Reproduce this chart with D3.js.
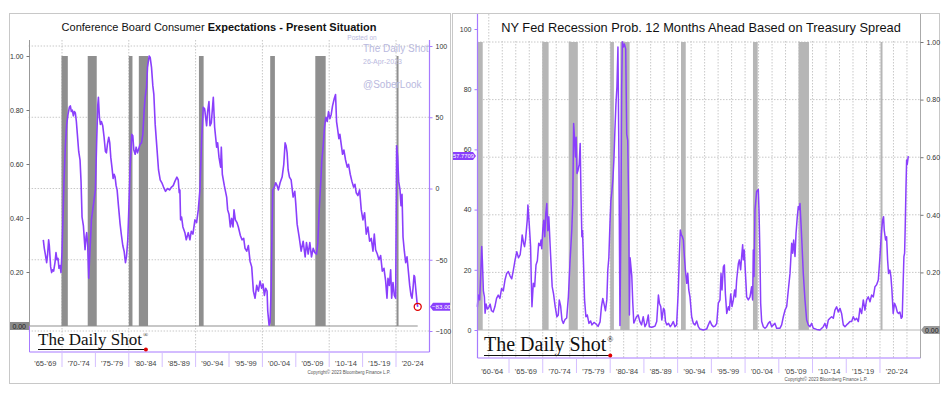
<!DOCTYPE html>
<html>
<head>
<meta charset="utf-8">
<script src="https://cdn.jsdelivr.net/npm/d3@7/dist/d3.min.js"></script>
<style>
  body { margin: 0; background: #fff; }
  svg { display: block; font-family: "Liberation Sans", Arial, sans-serif; }
</style>
</head>
<body>
<div id="chart"></div>
<script>
// NBER recessions [start, end] in decimal years
var recessions = [
  [1960.25, 1961.1], [1969.92, 1970.87], [1973.85, 1975.2], [1980.0, 1980.55],
  [1981.5, 1982.88], [1990.5, 1991.2], [2001.17, 2001.87], [2007.92, 2009.47], [2020.08, 2020.3]
];

// Conference Board: expectations minus present situation (right axis)
var confBoardSpread = [
  [1967.2,-36],[1967.35,-42],[1967.5,-46],[1967.7,-52],[1967.85,-46],[1968.0,-36],[1968.1,-40],[1968.3,-55],
  [1968.45,-59],[1968.6,-57],[1968.75,-58],[1968.95,-52],[1969.1,-45],[1969.25,-50],[1969.4,-49],[1969.55,-56],
  [1969.7,-54],[1969.85,-59],[1970.0,-45],[1970.15,-20],[1970.3,5],[1970.5,30],[1970.7,45],[1970.9,52],
  [1971.1,57],[1971.25,58],[1971.4,54],[1971.55,55],[1971.7,51],[1971.85,54],[1972.0,53],[1972.15,47],
  [1972.3,38],[1972.5,26],[1972.7,20],[1972.85,5],[1973.0,-20],[1973.2,-26],[1973.45,-43],[1973.6,-34],
  [1973.7,-31],[1973.85,-40],[1974.0,-63],[1974.15,-47],[1974.3,-33],[1974.4,-22],[1974.6,-15],[1974.8,-8],
  [1975.0,-1],[1975.2,35],[1975.35,58],[1975.45,64],[1975.6,50],[1975.75,45],[1975.9,47],[1976.1,44],
  [1976.3,36],[1976.5,26],[1976.65,25],[1976.8,31],[1977.0,36],[1977.15,32],[1977.3,22],[1977.5,14],
  [1977.65,7],[1977.8,10],[1977.95,8],[1978.1,2],[1978.25,-1],[1978.45,-12],[1978.7,-25],[1978.9,-33],
  [1979.1,-40],[1979.3,-44],[1979.5,-52],[1979.65,-48],[1979.85,-36],[1980.0,-15],[1980.2,15],[1980.45,38],
  [1980.6,37],[1980.75,27],[1980.95,24],[1981.1,29],[1981.3,25],[1981.5,28],[1981.7,31],[1981.9,32],
  [1982.1,38],[1982.3,55],[1982.45,64],[1982.65,71],[1982.8,85],[1983.05,93],[1983.2,92],[1983.4,85],
  [1983.6,72],[1983.75,66],[1983.95,45],[1984.2,29],[1984.45,13],[1984.7,6],[1984.95,4],[1985.2,1],
  [1985.5,-2],[1985.8,0],[1986.1,-1],[1986.4,1],[1986.65,2],[1986.9,5],[1987.2,8],[1987.4,6],
  [1987.55,-3],[1987.65,-1],[1987.75,-22],[1987.9,-20],[1988.1,-27],[1988.4,-31],[1988.6,-36],[1988.9,-31],
  [1989.15,-36],[1989.35,-30],[1989.6,-32],[1989.9,-22],[1990.15,-24],[1990.4,-15],[1990.65,-1],[1990.9,34],
  [1991.15,57],[1991.35,56],[1991.65,44],[1991.8,54],[1992.0,61],[1992.15,44],[1992.35,46],[1992.65,64],
  [1992.85,43],[1993.15,29],[1993.3,32],[1993.5,22],[1993.75,15],[1993.85,29],[1994.0,10],[1994.3,2],
  [1994.65,-6],[1994.8,-15],[1995.0,-18],[1995.2,-27],[1995.4,-21],[1995.6,-27],[1995.75,-15],[1995.95,-22],
  [1996.2,-24],[1996.4,-27],[1996.7,-33],[1996.95,-36],[1997.2,-35],[1997.4,-42],[1997.65,-44],[1997.9,-40],
  [1998.15,-51],[1998.4,-55],[1998.65,-72],[1998.9,-77],[1999.15,-68],[1999.4,-72],[1999.65,-65],[1999.9,-70],
  [2000.1,-67],[2000.3,-75],[2000.5,-70],[2000.7,-72],[2000.8,-86],[2001.0,-96],[2001.15,-94],[2001.3,-72],
  [2001.45,-27],[2001.55,-1],[2001.8,1],[2002.0,4],[2002.2,2],[2002.4,-1],[2002.65,4],[2002.95,8],
  [2003.2,17],[2003.4,32],[2003.55,30],[2003.7,25],[2003.85,13],[2004.05,8],[2004.3,6],[2004.6,-6],
  [2004.85,-2],[2005.0,-11],[2005.2,-25],[2005.5,-34],[2005.8,-44],[2006.1,-37],[2006.4,-48],[2006.6,-38],
  [2006.85,-46],[2007.1,-38],[2007.35,-48],[2007.6,-42],[2007.85,-45],[2008.1,-46],[2008.3,-38],[2008.5,-15],
  [2008.7,1],[2008.9,20],[2009.1,30],[2009.3,43],[2009.5,50],[2009.7,47],[2009.9,54],[2010.1,49],
  [2010.3,52],[2010.5,58],[2010.75,63],[2010.95,66],[2011.1,47],[2011.25,42],[2011.45,35],[2011.6,38],
  [2011.8,31],[2012.0,24],[2012.2,27],[2012.45,20],[2012.7,15],[2012.9,17],[2013.15,10],[2013.4,5],
  [2013.65,1],[2013.85,3],[2014.05,-3],[2014.3,-5],[2014.55,-1],[2014.8,-15],[2015.05,-22],[2015.3,-17],
  [2015.55,-32],[2015.8,-27],[2016.05,-37],[2016.3,-35],[2016.55,-44],[2016.75,-32],[2016.95,-43],[2017.2,-46],
  [2017.45,-50],[2017.7,-47],[2017.95,-58],[2018.2,-56],[2018.45,-65],[2018.65,-77],[2018.8,-63],[2019.0,-68],
  [2019.2,-57],[2019.35,-77],[2019.55,-66],[2019.75,-75],[2019.95,-77],[2020.1,30],[2020.25,22],[2020.4,5],
  [2020.6,-1],[2020.75,-12],[2020.9,-4],[2021.05,-34],[2021.25,-44],[2021.45,-52],[2021.65,-48],[2021.85,-58],
  [2022.05,-68],[2022.25,-75],[2022.4,-77],[2022.55,-70],[2022.7,-61],[2022.8,-62],[2022.95,-70],[2023.05,-75],
  [2023.15,-80],[2023.25,-83]
];

// NY Fed recession probability 12 months ahead (%)
var nyFedProb = [
  [1960.3,7.7],[1960.45,11.6],[1960.65,10],[1960.8,18],[1960.95,27.7],[1961.05,23],[1961.2,13],[1961.35,11],
  [1961.45,5.6],[1961.6,8.6],[1961.8,7],[1962.0,7.5],[1962.2,8.6],[1962.4,6.4],[1962.65,6],[1962.9,7.7],
  [1963.15,10.5],[1963.4,11.6],[1963.65,10.5],[1963.9,13.8],[1964.15,13],[1964.4,16.6],[1964.65,18.8],[1964.9,19.4],
  [1965.15,18],[1965.4,17],[1965.65,20],[1965.9,23.3],[1966.15,26],[1966.4,24],[1966.65,25],[1966.85,28.8],
  [1966.95,31.6],[1967.15,29],[1967.3,27.7],[1967.45,30],[1967.7,36.5],[1967.8,41.5],[1968.0,35],[1968.2,27.7],
  [1968.3,16.6],[1968.4,7.7],[1968.6,15.5],[1968.8,14.4],[1969.0,21.6],[1969.2,23],[1969.4,28.8],[1969.6,28],
  [1969.75,29.9],[1969.85,27],[1970.0,33],[1970.15,36.5],[1970.3,31],[1970.45,38.7],[1970.6,42],[1970.75,33],
  [1970.9,37.6],[1971.1,28],[1971.25,21],[1971.4,14.4],[1971.6,12],[1971.85,7.7],[1972.1,4.4],[1972.3,5],
  [1972.45,10],[1972.65,8],[1972.85,3.3],[1973.05,2.2],[1973.3,3.5],[1973.55,4],[1973.8,11],[1974.05,23],
  [1974.3,33],[1974.45,42],[1974.58,68.6],[1974.73,63],[1974.85,57.5],[1974.95,64],[1975.08,52],[1975.23,53],
  [1975.4,55],[1975.55,62],[1975.67,45],[1975.8,31],[1975.9,33],[1976.0,25.5],[1976.2,10],[1976.4,4.4],
  [1976.6,5],[1976.85,2.2],[1977.1,3],[1977.3,1.7],[1977.6,2.5],[1977.9,2],[1978.2,1.2],[1978.5,2.7],
  [1978.7,7.7],[1978.9,10.5],[1979.1,8.5],[1979.3,6.4],[1979.5,10],[1979.65,20],[1979.8,24],[1979.97,35.5],
  [1980.1,43],[1980.25,46],[1980.4,50],[1980.55,56.5],[1980.7,66.4],[1980.85,75],[1981.0,80.8],[1981.15,94],
  [1981.3,56],[1981.45,1.5],[1981.6,40],[1981.7,80],[1981.8,95.8],[1981.95,94],[1982.1,95],[1982.3,93.4],
  [1982.45,65],[1982.6,63],[1982.75,40],[1982.85,5],[1982.95,24],[1983.2,18],[1983.35,9],[1983.5,2.3],
  [1983.7,3.3],[1983.9,4.4],[1984.15,5],[1984.4,2.8],[1984.65,1.7],[1984.9,4.4],[1985.15,1.1],[1985.4,2.2],
  [1985.65,5],[1985.8,1.1],[1986.15,0.9],[1986.4,1.1],[1986.65,1.3],[1986.9,2.8],[1987.15,11.6],[1987.3,8.9],
  [1987.5,7.8],[1987.65,3.3],[1987.9,7.2],[1988.05,6.6],[1988.2,2.8],[1988.4,1.7],[1988.65,2.2],[1988.9,1.1],
  [1989.1,1.7],[1989.35,2.8],[1989.6,1.1],[1989.85,1.7],[1990.1,13.3],[1990.25,24.4],[1990.4,33.2],[1990.55,31.6],
  [1990.7,31],[1990.85,29.9],[1991.0,24.4],[1991.15,19.9],[1991.35,15.5],[1991.5,18.8],[1991.65,13.3],[1991.83,11],
  [1992.08,4.4],[1992.33,2.2],[1992.57,1.7],[1992.82,3],[1993.07,1.1],[1993.3,0.3],[1993.8,0],[1994.3,0.3],
  [1994.55,1.7],[1994.8,3],[1995.05,1.7],[1995.3,1.1],[1995.55,1.3],[1995.8,2.2],[1996.03,8.9],[1996.28,10],
  [1996.43,18.8],[1996.58,13.3],[1996.78,21],[1996.93,21.6],[1997.08,12],[1997.28,5.5],[1997.52,7.7],[1997.67,6.6],
  [1997.87,12],[1998.06,7.8],[1998.26,10],[1998.46,13.3],[1998.6,11],[1998.75,16.6],[1999.0,22],[1999.15,23.3],
  [1999.34,20],[1999.49,24.4],[1999.64,28.3],[1999.74,23.3],[1999.88,26.6],[2000.03,19.9],[2000.23,11],[2000.48,10],
  [2000.73,11],[2000.97,14.4],[2001.12,10],[2001.22,26.6],[2001.32,17.8],[2001.47,40],[2001.71,46],[2001.96,46.7],
  [2002.06,40],[2002.21,24.4],[2002.31,8.9],[2002.46,2.8],[2002.7,1.1],[2002.95,0.6],[2003.2,1.1],[2003.44,2.2],
  [2003.69,2.8],[2003.94,1.1],[2004.19,1.7],[2004.43,2.2],[2004.68,0.6],[2005.18,0.6],[2005.42,1.7],[2005.67,4.4],
  [2005.92,6.6],[2006.17,7.8],[2006.41,13.3],[2006.66,18.8],[2006.91,28.8],[2007.06,25.5],[2007.2,29.9],[2007.4,24.4],
  [2007.55,32],[2007.74,37.6],[2007.89,41],[2008.04,40],[2008.14,42],[2008.29,35.4],[2008.43,28.8],[2008.63,18.8],
  [2008.88,10],[2009.13,3.3],[2009.37,1.7],[2009.62,1.1],[2009.87,2.2],[2010.11,0.6],[2010.61,0.2],[2011.1,0],
  [2011.6,1.1],[2011.84,2.2],[2012.09,0.6],[2012.34,3.3],[2012.58,3.9],[2012.83,4.4],[2013.08,3.9],[2013.32,6.6],
  [2013.57,7.7],[2013.82,6],[2014.07,7.2],[2014.31,5.5],[2014.56,1.7],[2014.81,1.1],[2015.05,1.7],[2015.3,2.2],
  [2015.55,2.8],[2015.8,2.8],[2016.04,4.4],[2016.29,3.3],[2016.54,3.9],[2016.79,2.8],[2017.03,7.2],[2017.28,5.5],
  [2017.53,10],[2017.77,6.6],[2018.02,10],[2018.27,11],[2018.52,9.4],[2018.76,11.6],[2019.01,11],[2019.26,14.4],
  [2019.5,15],[2019.75,16.6],[2020.0,24.4],[2020.24,33.2],[2020.39,36.5],[2020.53,37.6],[2020.63,33.2],[2020.83,29.9],
  [2020.98,31],[2021.13,23.3],[2021.27,18.8],[2021.47,19.9],[2021.62,17.8],[2021.77,13.3],[2021.96,5.5],[2022.16,8.9],
  [2022.36,7.8],[2022.56,6],[2022.75,5.5],[2022.95,6],[2023.15,3.9],[2023.3,4.4],[2023.45,16.6],[2023.55,24.4],
  [2023.65,25.5],[2023.75,35],[2023.85,46.5],[2023.95,56.5],[2024.04,55],[2024.2,57.7709]
];

var leftPeriods = ["'65-'69","'70-'74","'75-'79","'80-'84","'85-'89","'90-'94","'95-'99","'00-'04","'05-'09","'10-'14","'15-'19","'20-'24"];
var rightPeriods = ["'60-'64","'65-'69","'70-'74","'75-'79","'80-'84","'85-'89","'90-'94","'95-'99","'00-'04","'05-'09","'10-'14","'15-'19","'20-'24"];
var recTicks = [0.2, 0.4, 0.6, 0.8, 1.0];
var spreadTicks = [100, 50, 0, -50, -100];
var probTicks = [0, 20, 40, 60, 80, 100];

var purple = "#8a3ffc";
var axisPurple = "#a77bff";
var gridColor = "#c8c8c8";

var svg = d3.select("#chart").append("svg")
  .attr("width", 949)
  .attr("height", 393);

// helper: the two period axes share the same look
function periodAxis(g, x, start, labels, y0, x0, x1, labelY) {
  g.append("line")
    .attr("x1", x0).attr("x2", x1).attr("y1", y0).attr("y2", y0)
    .attr("stroke", axisPurple).attr("stroke-width", 1.2);
  g.selectAll(".sep")
    .data(labels.slice(1))
    .enter().append("line")
    .attr("x1", (d, i) => x(start + (i + 1) * 5))
    .attr("x2", (d, i) => x(start + (i + 1) * 5))
    .attr("y1", y0).attr("y2", y0 + 15)
    .attr("stroke", "#d4bfff").attr("stroke-width", 1);
  g.selectAll(".plab")
    .data(labels)
    .enter().append("text")
    .attr("x", (d, i) => x(start + i * 5 + 2.5))
    .attr("y", labelY)
    .attr("text-anchor", "middle")
    .attr("font-size", "7.5px")
    .attr("fill", "#444")
    .text(d => d);
}

function logo(g, x, y, size, lineY) {
  var t = g.append("text")
    .attr("x", x).attr("y", y)
    .attr("font-family", "'Liberation Serif', 'DejaVu Serif', serif")
    .attr("font-size", size + "px")
    .attr("fill", "#111")
    .text("The Daily Shot");
  var w = t.node().getComputedTextLength();
  g.append("text")
    .attr("x", x + w + 1).attr("y", y - size * 0.45)
    .attr("font-family", "'Liberation Serif', serif")
    .attr("font-size", (size * 0.4) + "px")
    .attr("fill", "#111")
    .text("®");
  g.append("line")
    .attr("x1", x).attr("x2", x + w + 4).attr("y1", lineY).attr("y2", lineY)
    .attr("stroke", "#111").attr("stroke-width", 1);
  g.append("circle")
    .attr("cx", x + w + 4).attr("cy", lineY).attr("r", 2)
    .attr("fill", "#e00000");
}

/* ---------------- Left panel ---------------- */
var L = svg.append("g");
var xL = d3.scaleLinear().domain([1965, 2025]).range([28.6, 429.4]);
var yL = d3.scaleLinear().domain([-100, 100]).range([331, 46]);
var yLrec = d3.scaleLinear().domain([0, 1]).range([326, 56]);

L.append("rect")
  .attr("x", 9.5).attr("y", 13.5).attr("width", 441).attr("height", 370)
  .attr("fill", "#fff").attr("stroke", "#c8c8c8");

// grid
L.selectAll(".hgrid")
  .data(spreadTicks)
  .enter().append("line")
  .attr("x1", xL(1965)).attr("x2", xL(2025))
  .attr("y1", d => yL(d)).attr("y2", d => yL(d))
  .attr("stroke", gridColor).attr("stroke-dasharray", "1.5,1.5");
L.selectAll(".vgrid")
  .data(d3.range(1970, 2021, 10))
  .enter().append("line")
  .attr("x1", d => xL(d)).attr("x2", d => xL(d))
  .attr("y1", 40).attr("y2", 352)
  .attr("stroke", gridColor).attr("stroke-dasharray", "1.5,1.5");

// recession bars
L.selectAll(".rec")
  .data(recessions.filter(r => r[0] > 1965))
  .enter().append("rect")
  .attr("x", d => xL(d[0]))
  .attr("width", d => Math.max(2, xL(d[1]) - xL(d[0])))
  .attr("y", yLrec(1))
  .attr("height", yLrec(0) - yLrec(1))
  .attr("fill", "#8f8f8f");
L.append("line")
  .attr("x1", xL(1965)).attr("x2", xL(2023.25))
  .attr("y1", yLrec(0)).attr("y2", yLrec(0))
  .attr("stroke", "#8f8f8f").attr("stroke-width", 1);

// watermark
var wm = L.append("g").attr("fill", "#b9b9de");
wm.append("text").attr("x", 362).attr("y", 40).attr("text-anchor", "middle").attr("font-size", "6.5px").text("Posted on");
wm.append("text").attr("x", 363).attr("y", 52).attr("font-size", "10px").text("The Daily Shot");
wm.append("text").attr("x", 363).attr("y", 64).attr("font-size", "7px").text("26-Apr-2023");
wm.append("text").attr("x", 363).attr("y", 88).attr("font-size", "10px").text("@SoberLook");

// series
var lineL = d3.line().x(d => xL(d[0])).y(d => yL(d[1]));
L.append("path")
  .datum(confBoardSpread)
  .attr("d", lineL)
  .attr("fill", "none")
  .attr("stroke", purple)
  .attr("stroke-width", 1.6)
  .attr("stroke-linejoin", "round");

var lastL = confBoardSpread[confBoardSpread.length - 1];
L.append("circle")
  .attr("cx", xL(lastL[0])).attr("cy", yL(lastL[1])).attr("r", 3.5)
  .attr("fill", "none").attr("stroke", "#e00000").attr("stroke-width", 1.3);

// left axis (recession scale)
L.append("line").attr("x1", 29.5).attr("x2", 29.5).attr("y1", 40).attr("y2", yLrec(0))
  .attr("stroke", "#999");
L.append("line").attr("x1", 29.5).attr("x2", 29.5).attr("y1", yLrec(0)).attr("y2", 352)
  .attr("stroke", axisPurple);
L.append("g")
  .attr("transform", "translate(29.5,0)")
  .call(d3.axisLeft(yLrec).tickValues(recTicks).tickFormat(d3.format(".2f")).tickSize(3))
  .call(g => g.select(".domain").remove())
  .call(g => g.selectAll("line").attr("stroke", "#777"))
  .call(g => g.selectAll("text").attr("font-size", "7px").attr("fill", "#333").attr("font-family", "'Liberation Sans', Arial"));
L.append("rect").attr("x", 10).attr("y", yLrec(0) - 4).attr("width", 19).attr("height", 8).attr("fill", "#8a8a8a");
L.append("text").attr("x", 26).attr("y", yLrec(0) + 2.5).attr("text-anchor", "end")
  .attr("font-size", "7px").attr("fill", "#222").text("0.00");

// right axis (spread)
L.append("line").attr("x1", 429.5).attr("x2", 429.5).attr("y1", 40).attr("y2", 352)
  .attr("stroke", axisPurple).attr("stroke-width", 1.2);
L.append("g")
  .attr("transform", "translate(429.5,0)")
  .call(d3.axisRight(yL).tickValues(spreadTicks).tickSize(3))
  .call(g => g.select(".domain").remove())
  .call(g => g.selectAll("line").attr("stroke", axisPurple))
  .call(g => g.selectAll("text").attr("font-size", "7px").attr("fill", "#333").attr("font-family", "'Liberation Sans', Arial"));
L.append("path")
  .attr("d", `M430,${yL(lastL[1])} l3,-4 h17 v8 h-17 z`)
  .attr("fill", purple);
L.append("text").attr("x", 441.5).attr("y", yL(lastL[1]) + 2.2).attr("text-anchor", "middle")
  .attr("font-size", "6.2px").attr("fill", "#fff").text(d3.format(".2f")(lastL[1]));

// bottom
periodAxis(L, xL, 1965, leftPeriods, 352, 29.5, 429.5, 366);
logo(L, 38, 345, 17, 349.5);

// title
var tL = L.append("text").attr("x", 219).attr("y", 31).attr("text-anchor", "middle")
  .attr("font-size", "11px").attr("fill", "#111");
tL.append("tspan").text("Conference Board Consumer ");
tL.append("tspan").attr("font-weight", "bold").text("Expectations - Present Situation");

L.append("text").attr("x", 349).attr("y", 374).attr("text-anchor", "middle")
  .attr("font-size", "4.5px").attr("fill", "#555").text("Copyright© 2023 Bloomberg Finance L.P.");

/* ---------------- Right panel ---------------- */
var R = svg.append("g");
var xR = d3.scaleLinear().domain([1960, 2025]).range([475.3, 913.7]);
var yR = d3.scaleLinear().domain([0, 100]).range([330, 29]);
var yRrec = d3.scaleLinear().domain([0, 1]).range([330, 42]);

R.append("rect")
  .attr("x", 452.5).attr("y", 13.5).attr("width", 487).attr("height", 370)
  .attr("fill", "#fff").attr("stroke", "#c8c8c8");

R.selectAll(".hgrid")
  .data(recTicks)
  .enter().append("line")
  .attr("x1", 477).attr("x2", 920)
  .attr("y1", d => yRrec(d)).attr("y2", d => yRrec(d))
  .attr("stroke", gridColor).attr("stroke-dasharray", "1.5,1.5");
R.selectAll(".vgrid")
  .data(d3.range(1962, 2025, 2))
  .enter().append("line")
  .attr("x1", d => xR(d)).attr("x2", d => xR(d))
  .attr("y1", 14).attr("y2", 358)
  .attr("stroke", gridColor).attr("stroke-dasharray", "1.5,1.5");

// title box
R.append("rect").attr("x", 490).attr("y", 14).attr("width", 429).attr("height", 26).attr("fill", "#fff");

R.selectAll(".rec")
  .data(recessions)
  .enter().append("rect")
  .attr("x", d => xR(d[0]))
  .attr("width", d => Math.max(2, xR(d[1]) - xR(d[0])))
  .attr("y", yRrec(1))
  .attr("height", yRrec(0) - yRrec(1))
  .attr("fill", "#b6b6b6");
R.append("line")
  .attr("x1", 477).attr("x2", 920)
  .attr("y1", yRrec(0)).attr("y2", yRrec(0))
  .attr("stroke", "#b6b6b6");

var lineR = d3.line().x(d => xR(d[0])).y(d => yR(d[1]));
R.append("path")
  .datum(nyFedProb)
  .attr("d", lineR)
  .attr("fill", "none")
  .attr("stroke", purple)
  .attr("stroke-width", 1.5)
  .attr("stroke-linejoin", "round");

// left axis (probability)
R.append("line").attr("x1", 477.5).attr("x2", 477.5).attr("y1", 14).attr("y2", 358)
  .attr("stroke", axisPurple).attr("stroke-width", 1.2);
R.append("g")
  .attr("transform", "translate(477.5,0)")
  .call(d3.axisLeft(yR).tickValues(probTicks).tickSize(3))
  .call(g => g.select(".domain").remove())
  .call(g => g.selectAll("line").attr("stroke", axisPurple))
  .call(g => g.selectAll("text").attr("font-size", "7px").attr("fill", "#333").attr("font-family", "'Liberation Sans', Arial"));
var lastR = nyFedProb[nyFedProb.length - 1];
R.append("path")
  .attr("d", `M476,${yR(lastR[1])} l-3,-4 h-20 v8 h20 z`)
  .attr("fill", purple);
R.append("text").attr("x", 463.5).attr("y", yR(lastR[1]) + 2.2).attr("text-anchor", "middle")
  .attr("font-size", "5.8px").attr("fill", "#fff").text(d3.format(".4f")(lastR[1]));

// right axis (recession scale)
R.append("line").attr("x1", 920.5).attr("x2", 920.5).attr("y1", 14).attr("y2", 358)
  .attr("stroke", "#aaa");
R.append("g")
  .attr("transform", "translate(920.5,0)")
  .call(d3.axisRight(yRrec).tickValues(recTicks).tickFormat(d3.format(".2f")).tickSize(3))
  .call(g => g.select(".domain").remove())
  .call(g => g.selectAll("line").attr("stroke", "#777"))
  .call(g => g.selectAll("text").attr("font-size", "7px").attr("fill", "#333").attr("font-family", "'Liberation Sans', Arial"));
R.append("path")
  .attr("d", `M921,${yRrec(0)} l3,-4 h16 v8 h-16 z`)
  .attr("fill", "#9a9a9a");
R.append("text").attr("x", 925).attr("y", yRrec(0) + 2.5)
  .attr("font-size", "7px").attr("fill", "#222").text("0.00");

periodAxis(R, xR, 1960, rightPeriods, 358, 477.5, 920.5, 374);
logo(R, 484, 351, 20, 355.5);

R.append("text").attr("x", 701).attr("y", 32).attr("text-anchor", "middle")
  .attr("font-size", "12.8px").attr("fill", "#111")
  .text("NY Fed Recession Prob. 12 Months Ahead Based on Treasury Spread");

R.append("text").attr("x", 826).attr("y", 381).attr("text-anchor", "middle")
  .attr("font-size", "4.5px").attr("fill", "#555").text("Copyright© 2023 Bloomberg Finance L.P.");
</script>
</body>
</html>
